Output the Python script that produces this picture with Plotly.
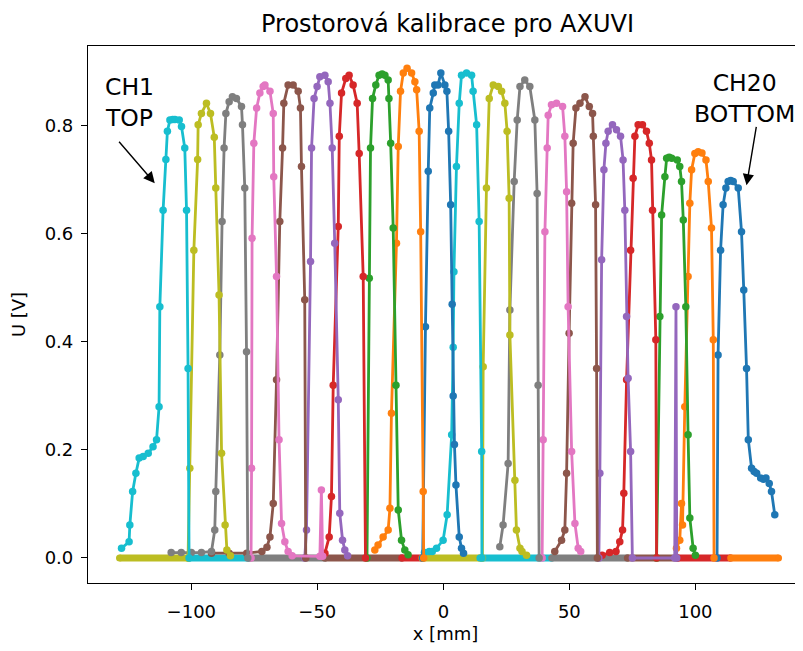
import plotly.graph_objects as go

TITLE = "Prostorová kalibrace pro AXUVI"
X_LABEL = "x [mm]"
Y_LABEL = "U [V]"
X_TICKS = [-100, -50, 0, 50, 100]
Y_TICKS = [0.0, 0.2, 0.4, 0.6, 0.8]

TAB10 = ["#1f77b4", "#ff7f0e", "#2ca02c", "#d62728", "#9467bd",
         "#8c564b", "#e377c2", "#7f7f7f", "#bcbd22", "#17becf"]

# channel profiles (x in mm, U in V)
CH1_X = [-127.7, -124.7, -124.4, -123.3, -122.0, -120.7, -119.1, -117.1, -115.2, -113.8, -112.8, -112.5, -111.2, -110.1, -109.5, -108.5, -107.4, -106.5, -104.8, -103.9, -102.6, -101.9, -101.3, -100.9]
CH1_Y = [0.018, 0.030, 0.061, 0.123, 0.157, 0.185, 0.188, 0.194, 0.206, 0.219, 0.280, 0.465, 0.644, 0.738, 0.790, 0.811, 0.812, 0.812, 0.811, 0.799, 0.759, 0.644, 0.351, 0.0]
CH2_X = [-101.3, -100.6, -99.0, -97.5, -97.3, -96.0, -94.0, -92.4, -90.9, -90.3, -89.0, -88.0, -86.6, -85.9, -84.5]
CH2_Y = [0.0, 0.166, 0.570, 0.738, 0.802, 0.823, 0.842, 0.823, 0.779, 0.685, 0.487, 0.194, 0.061, 0.015, 0.004]
CH3_X = [-108.0, -104.0, -100.0, -96.0, -92.0, -90.7, -90.3, -88.7, -87.8, -87.0, -86.3, -85.0, -83.7, -82.1, -80.1, -79.7, -78.8, -78.1, -77.6]
CH3_Y = [0.010, 0.010, 0.010, 0.010, 0.012, 0.052, 0.123, 0.376, 0.623, 0.759, 0.823, 0.845, 0.854, 0.851, 0.836, 0.802, 0.685, 0.382, 0.0]
CH4_X = [-76.3, -76.1, -75.9, -75.2, -74.1, -72.8, -71.5, -70.8, -68.8, -67.5, -67.3, -66.2, -65.2, -64.2, -62.9, -61.6, -60.0, -49.0, -48.4, -47.9]
CH4_Y = [0.0, 0.166, 0.592, 0.768, 0.833, 0.861, 0.873, 0.876, 0.864, 0.823, 0.706, 0.521, 0.219, 0.064, 0.030, 0.012, 0.004, 0.003, 0.126, 0.003]
CH5_X = [-92.0, -85.0, -78.0, -72.0, -70.0, -68.8, -67.5, -66.2, -64.9, -63.8, -63.3, -61.6, -59.6, -57.6, -56.7, -56.3, -55.0, -54.6]
CH5_Y = [0.009, 0.009, 0.009, 0.012, 0.020, 0.039, 0.101, 0.330, 0.623, 0.759, 0.842, 0.876, 0.876, 0.864, 0.833, 0.725, 0.478, 0.0]
CH6_X = [-55.0, -54.3, -52.7, -52.3, -51.3, -50.1, -49.0, -47.0, -45.7, -45.0, -44.1, -43.1, -41.7, -41.1, -40.0, -39.1, -38.0]
CH6_Y = [0.0, 0.052, 0.549, 0.759, 0.851, 0.873, 0.891, 0.894, 0.882, 0.842, 0.759, 0.583, 0.293, 0.083, 0.033, 0.015, 0.004]
CH7_X = [-48.0, -47.0, -45.3, -44.4, -43.7, -41.7, -41.3, -40.4, -38.7, -37.4, -35.8, -34.2, -33.4, -31.8, -30.9]
CH7_Y = [0.005, 0.009, 0.039, 0.114, 0.320, 0.614, 0.781, 0.861, 0.888, 0.894, 0.876, 0.842, 0.749, 0.521, 0.0]
CH8_X = [-30.3, -29.4, -28.9, -28.1, -26.8, -25.5, -24.3, -23.2, -21.9, -21.6, -20.9, -19.9, -18.8, -17.9, -16.6, -15.3, -14.0]
CH8_Y = [0.0, 0.518, 0.759, 0.851, 0.876, 0.894, 0.896, 0.894, 0.885, 0.851, 0.768, 0.611, 0.320, 0.089, 0.033, 0.015, 0.006]
CH9_X = [-27.2, -25.9, -23.9, -21.9, -21.2, -20.6, -18.6, -17.9, -17.0, -15.9, -14.4, -12.6, -11.3, -10.6, -9.6, -9.0, -8.0, -7.8]
CH9_Y = [0.015, 0.024, 0.039, 0.052, 0.092, 0.268, 0.583, 0.762, 0.864, 0.898, 0.907, 0.898, 0.882, 0.867, 0.790, 0.604, 0.123, 0.0]
CH10_X = [-8.2, -7.1, -6.0, -5.4, -4.0, -3.4, -2.1, -1.0, 0.6, 1.4, 2.1, 2.9, 3.5, 3.9, 4.4, 5.0, 6.3, 7.2, 8.0]
CH10_Y = [0.0, 0.428, 0.716, 0.833, 0.861, 0.876, 0.876, 0.898, 0.876, 0.864, 0.790, 0.654, 0.470, 0.300, 0.210, 0.135, 0.039, 0.018, 0.009]
CH11_X = [-7.5, -5.6, -4.4, -2.7, -0.1, 1.5, 3.3, 3.9, 4.2, 5.2, 6.3, 7.2, 9.2, 11.2, 11.8, 13.2, 14.2, 15.2, 15.3]
CH11_Y = [0.010, 0.012, 0.012, 0.018, 0.033, 0.080, 0.228, 0.390, 0.530, 0.725, 0.842, 0.894, 0.898, 0.894, 0.864, 0.802, 0.623, 0.197, 0.0]
CH12_X = [15.5, 15.8, 17.1, 18.2, 19.8, 21.8, 23.1, 24.4, 25.3, 26.1, 26.4, 28.4, 29.0, 30.4, 31.2, 33.0]
CH12_Y = [0.0, 0.354, 0.685, 0.851, 0.876, 0.873, 0.864, 0.842, 0.790, 0.666, 0.413, 0.144, 0.052, 0.018, 0.012, 0.005]
CH13_X = [22.4, 23.7, 25.7, 26.4, 28.1, 29.3, 30.4, 32.3, 34.3, 36.3, 37.2, 37.6, 38.0]
CH13_Y = [0.021, 0.061, 0.175, 0.459, 0.697, 0.811, 0.873, 0.885, 0.873, 0.811, 0.675, 0.320, 0.0]
CH14_X = [39.2, 39.6, 40.3, 41.2, 41.6, 42.9, 44.9, 47.3, 48.2, 48.9, 49.5, 50.9, 52.2, 53.5, 54.5]
CH14_Y = [0.0, 0.219, 0.604, 0.759, 0.820, 0.839, 0.842, 0.836, 0.781, 0.678, 0.465, 0.197, 0.064, 0.018, 0.012]
CH15_X = [44.2, 46.9, 48.2, 48.9, 49.9, 50.9, 51.5, 52.6, 54.2, 56.2, 57.9, 59.2, 59.5, 60.4, 60.8, 61.1]
CH15_Y = [0.012, 0.033, 0.052, 0.157, 0.416, 0.657, 0.768, 0.833, 0.842, 0.854, 0.836, 0.823, 0.781, 0.654, 0.351, 0.0]
CH16_X = [61.7, 62.1, 62.8, 63.7, 64.5, 65.4, 67.1, 68.7, 70.3, 71.3, 72.0, 72.7, 73.3, 74.3, 75.0, 91.8, 92.3, 92.6]
CH16_Y = [0.0, 0.157, 0.552, 0.719, 0.768, 0.790, 0.802, 0.793, 0.781, 0.737, 0.644, 0.447, 0.333, 0.197, 0.0, 0.0, 0.465, 0.0]
CH17_X = [63.0, 66.0, 68.5, 70.0, 71.1, 71.6, 72.7, 74.3, 75.3, 76.0, 77.3, 79.0, 80.6, 81.7, 82.6, 83.0, 84.3, 84.6]
CH17_Y = [0.005, 0.010, 0.012, 0.030, 0.052, 0.120, 0.330, 0.570, 0.703, 0.781, 0.802, 0.802, 0.790, 0.768, 0.737, 0.644, 0.404, 0.0]
CH18_X = [84.6, 85.9, 86.6, 87.9, 88.6, 89.6, 90.6, 92.8, 93.8, 94.5, 95.2, 96.2, 97.1, 97.8, 99.1, 100.0]
CH18_Y = [0.0, 0.447, 0.635, 0.706, 0.740, 0.742, 0.740, 0.737, 0.725, 0.697, 0.626, 0.465, 0.228, 0.074, 0.018, 0.005]
CH19_X = [92.5, 93.8, 94.5, 94.9, 95.8, 97.1, 97.8, 98.5, 99.8, 101.1, 102.6, 104.2, 105.1, 106.4, 107.1, 107.4]
CH19_Y = [0.018, 0.033, 0.101, 0.061, 0.280, 0.521, 0.657, 0.719, 0.749, 0.752, 0.750, 0.737, 0.697, 0.611, 0.404, 0.0]
CH20_X = [108.6, 109.0, 110.0, 111.0, 112.1, 113.0, 114.0, 115.0, 117.0, 118.3, 119.2, 120.3, 121.0, 122.3, 123.3, 124.3, 125.9, 127.0, 128.0, 129.3, 130.2, 131.5]
CH20_Y = [0.0, 0.376, 0.570, 0.654, 0.685, 0.697, 0.699, 0.697, 0.685, 0.604, 0.496, 0.351, 0.219, 0.166, 0.160, 0.157, 0.148, 0.146, 0.148, 0.138, 0.123, 0.080]

CHANNEL_X = [CH1_X, CH2_X, CH3_X, CH4_X, CH5_X, CH6_X, CH7_X, CH8_X, CH9_X, CH10_X,
             CH11_X, CH12_X, CH13_X, CH14_X, CH15_X, CH16_X, CH17_X, CH18_X, CH19_X, CH20_X]
CHANNEL_Y = [CH1_Y, CH2_Y, CH3_Y, CH4_Y, CH5_Y, CH6_Y, CH7_Y, CH8_Y, CH9_Y, CH10_Y,
             CH11_Y, CH12_Y, CH13_Y, CH14_Y, CH15_Y, CH16_Y, CH17_Y, CH18_Y, CH19_Y, CH20_Y]

# zero-signal stretches of the scans that remain visible on the baseline
BASE_CHANNEL = [2, 1, 3, 5, 7, 12, 11, 13, 15, 17, 19]
BASE_START = [-128.5, -101.0, -77.0, -47.0, -16.5, -8.5, 14.5, 43.0, 73.0, 93.0, 114.0]
BASE_END = [-101.0, -77.0, -47.0, -16.5, -8.5, 14.5, 43.0, 73.0, 93.0, 114.0, 133.0]


def color_of(ch):
    return TAB10[(20 - ch) % 10]


fig = go.Figure()

for ch, x0, x1 in zip(BASE_CHANNEL, BASE_START, BASE_END):
    fig.add_trace(go.Scatter(
        x=[x0, x1], y=[0.0, 0.0], mode="lines+markers",
        line=dict(color=color_of(ch), width=7),
        marker=dict(color=color_of(ch), size=7),
        showlegend=False, hoverinfo="skip"))

for ch in range(20, 0, -1):
    fig.add_trace(go.Scatter(
        x=CHANNEL_X[ch - 1], y=CHANNEL_Y[ch - 1], mode="lines+markers",
        name=f"CH{ch}",
        line=dict(color=color_of(ch), width=2.8),
        marker=dict(color=color_of(ch), size=7.5),
        showlegend=False))

FONT = "DejaVu Sans, Verdana, sans-serif"
W, H = 795, 643  # page body adds an 8px offset

fig.update_layout(
    width=W, height=H,
    margin=dict(l=80, r=0, t=38, b=68),
    paper_bgcolor="white", plot_bgcolor="white",
    font=dict(family=FONT, size=18, color="black"),
    title=dict(text=TITLE, x=439.5 / W, xref="container", xanchor="center",
               y=1 - 15.5 / H, yref="container", yanchor="middle",
               font=dict(size=24, family=FONT, color="black")),
    showlegend=False,
)

fig.update_xaxes(
    range=[-141.0, 142.7], tickvals=X_TICKS, ticks="outside", ticklen=6, tickwidth=1.2,
    tickcolor="black", showline=True, linecolor="black", linewidth=1.2, mirror=True,
    showgrid=False, zeroline=False, tickfont=dict(size=18), automargin=False,
    ticklabelstandoff=6,
    title=dict(text=X_LABEL, font=dict(size=18), standoff=6),
)
fig.update_yaxes(
    range=[-0.0463, 0.948], tickvals=Y_TICKS, tickformat=".1f", ticks="outside", ticklen=6,
    tickwidth=1.2, tickcolor="black", showline=True, linecolor="black", linewidth=1.2,
    mirror=False, showgrid=False, zeroline=False, tickfont=dict(size=18), automargin=False,
    ticklabelstandoff=4,
    title=dict(text=Y_LABEL, font=dict(size=18), standoff=14),
)

# annotations with arrows
fig.add_annotation(x=-114.5, y=0.694, ax=-37, ay=-43, text="", showarrow=True,
                   arrowhead=2, arrowsize=1.6, arrowwidth=1.4, arrowcolor="black")
fig.add_annotation(x=-124.5, y=0.844, text="CH1<br>TOP", showarrow=False,
                   font=dict(size=23.5, family=FONT, color="black"), align="center")
fig.add_annotation(x=120.3, y=0.690, ax=10, ay=-60, text="", showarrow=True,
                   arrowhead=2, arrowsize=1.6, arrowwidth=1.4, arrowcolor="black")
fig.add_annotation(x=119.6, y=0.850, text="CH20<br>BOTTOM", showarrow=False,
                   font=dict(size=23.5, family=FONT, color="black"), align="center")

fig.write_html("out.html")
